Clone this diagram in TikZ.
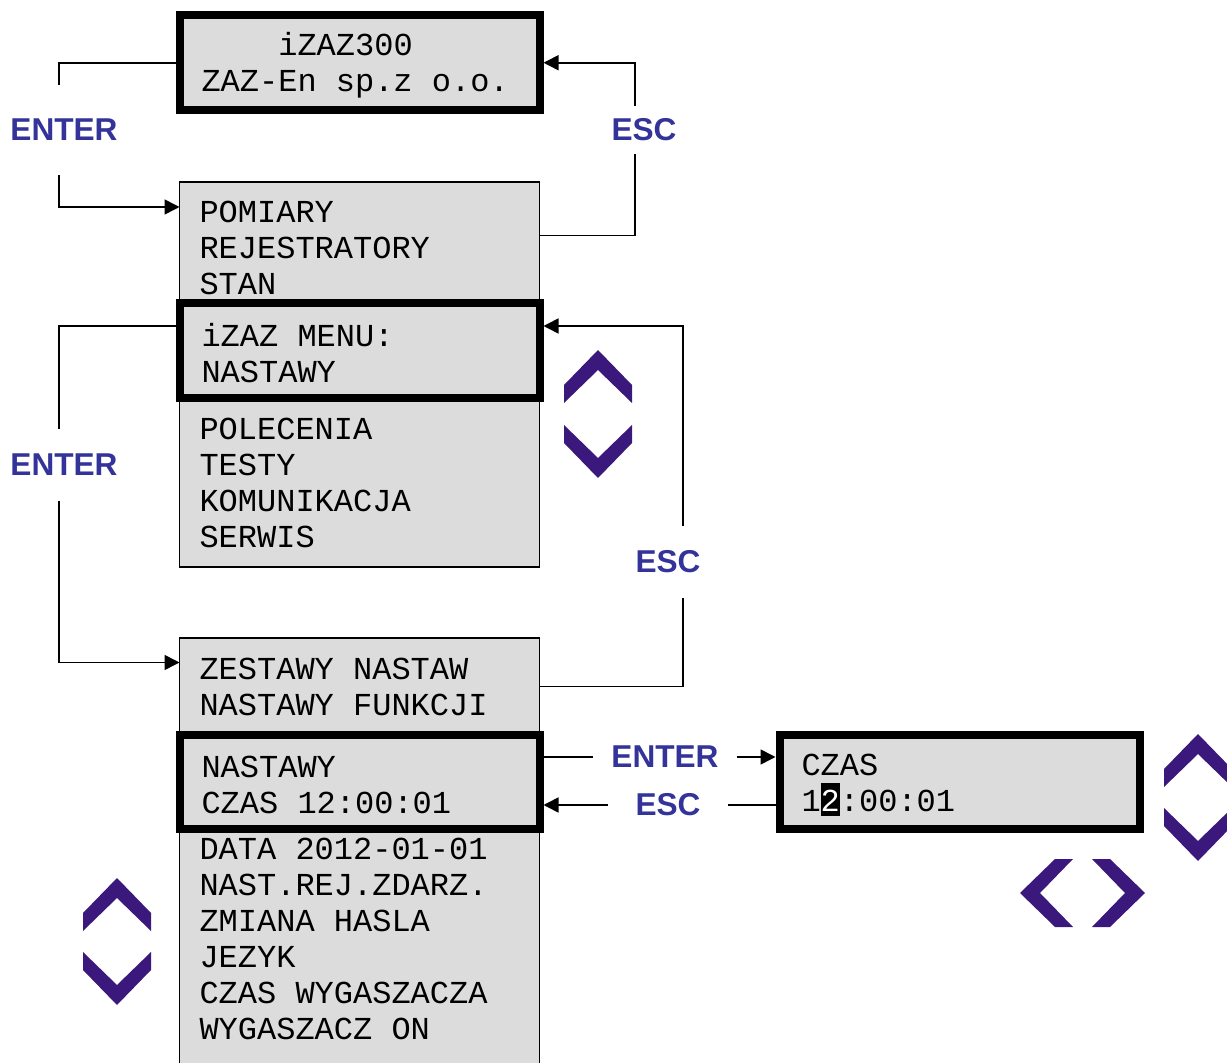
\documentclass[tikz,border=0pt]{standalone}
\usepackage{fontspec}
\newfontfamily\lcdfont{Liberation Mono}
\newfontfamily\keyfont{Liberation Sans}
\usepackage{xcolor}
\usetikzlibrary{positioning,arrows.meta}
\definecolor{lcdgray}{RGB}{220,220,220}
\definecolor{keyblue}{RGB}{51,51,153}
\definecolor{chevviolet}{RGB}{59,24,124}
\newcommand{\lcdtext}{\lcdfont\fontsize{16}{18}\selectfont}
\newcommand{\selchar}[1]{{\setlength{\fboxsep}{0pt}\colorbox{black}{\rule[-2pt]{0pt}{16.5pt}\textcolor{white}{#1}}}}

\begin{document}
\begin{tikzpicture}[x=0.5pt, y=-0.5pt,
    lcd/.style={draw=black, fill=lcdgray, line width=0.8pt, anchor=north west, outer sep=0pt,
        text width=160pt, inner xsep=10pt, inner ysep=0pt, align=left, font=\lcdtext,
        execute at begin node={\spaceskip=9.6pt\relax}},
    lcdsel/.style={lcd, line width=4pt, text width=158pt, inner xsep=11pt,
        execute at begin node={\spaceskip=9.6pt\relax\rule{0pt}{14pt}}},
    keylbl/.style={text=keyblue, font=\keyfont\bfseries\fontsize{15.8}{18}\selectfont, inner sep=0pt},
    link/.style={line width=0.8pt},
    arr/.style={link, -{Triangle[length=7.5pt,width=7.5pt]}}]

    \useasboundingbox (0,0) rectangle (1227,1063);

    % Menu lists
    \node[lcd, minimum height=66pt] (pom) at (179.5,182) {POMIARY\\REJESTRATORY\\STAN};
    \node[lcd, minimum height=84.5pt] (pol) at (179.5,398) {POLECENIA\\TESTY\\KOMUNIKACJA\\SERWIS};
    \node[lcd, minimum height=48.5pt] (zest) at (179.5,638) {ZESTAWY NASTAW\\NASTAWY FUNKCJI};
    \node[lcd, minimum height=128pt] (data) at (179.5,829) {DATA 2012-01-01\\NAST.REJ.ZDARZ.\\ZMIANA HASLA\\JEZYK\\CZAS WYGASZACZA\\WYGASZACZ ON\\ \mbox{}};

    % Selected lines (display window)
    \node[lcdsel, minimum height=47.75pt] (top) at (179.5,15) {\hphantom{0000}iZAZ300\\ZAZ-En sp.z o.o.};
    \node[lcdsel, minimum height=47.5pt] (menu) at (179.5,303) {iZAZ MENU:\\NASTAWY};
    \node[lcdsel, minimum height=47pt] (nast) at (179.5,735) {NASTAWY\\CZAS 12:00:01};
    \node[lcdsel, minimum height=47pt] (czas) at (779.5,735) {CZAS\\1\selchar{2}:00:01};

    % Keys
    \node[keylbl, minimum height=45pt] (enter1) at (64,130) {ENTER};
    \node[keylbl, minimum height=24pt] (esc1) at (644,130) {ESC};
    \node[keylbl, minimum height=35.5pt] (enter2) at (64,465) {ENTER};
    \node[keylbl, minimum height=35.5pt] (esc2) at (668,562) {ESC};
    \node[keylbl, minimum width=72pt] (enter3) at (665,757) {ENTER};
    \node[keylbl, minimum width=59.5pt] (esc3) at (668,805) {ESC};

    % Transitions
    \draw[link] (top.west) -| ([xshift=-2.5pt]enter1.north);
    \draw[arr] ([xshift=-2.5pt]enter1.south) |- ([yshift=-12.5pt]pom.north west);
    \draw[link] ([yshift=6.25pt]pom.east) -| ([xshift=-4.5pt]esc1.south);
    \draw[arr, shorten >=2pt] ([xshift=-4.5pt]esc1.north) |- (top.east);

    \draw[link] ([yshift=12.25pt]menu.west) -| ([xshift=-2.5pt]enter2.north);
    \draw[arr] ([xshift=-2.5pt]enter2.south) |- ([yshift=12pt]zest.west);
    \draw[link] (zest.east) -| ([xshift=7.5pt]esc2.south);
    \draw[arr, shorten >=2pt] ([xshift=7.5pt]esc2.north) |- ([yshift=12.25pt]menu.east);

    \draw[link] (enter3.west -| nast.east) -- (enter3.west);
    \draw[arr, shorten >=2pt] (enter3.east) -- (enter3.east -| czas.west);
    \draw[link] (esc3.east -| czas.west) -- (esc3.east);
    \draw[arr, shorten >=2pt] (esc3.west) -- (esc3.west -| nast.east);

    % Navigation chevrons
    \foreach \x/\y/\r in {598/350/0, 598/478/180, 117/878/0, 117/1005/180,
                          1198/734/0, 1198/861/180, 1020/893/90, 1145/893/-90}
        \fill[chevviolet, shift={(\x,\y)}, rotate=\r]
            (0,0) -- (34,35) -- (34,53) -- (0,20) -- (-34,53) -- (-34,35) -- cycle;

\end{tikzpicture}
\end{document}
